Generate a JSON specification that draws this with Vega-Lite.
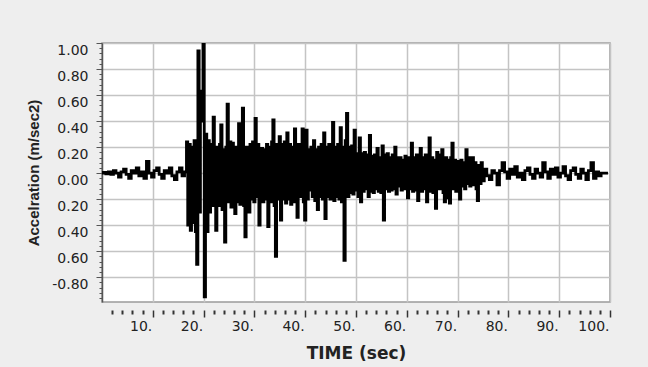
{
"$schema": "https://vega.github.io/schema/vega-lite/v6.json",
"width": 508,
"height": 259,
"autosize": {"type": "none"},
"padding": {"left": 102, "top": 43, "right": 38, "bottom": 65},
"background": "#eeeeee",
"config": {"view": {"fill": "white", "stroke": "#9a9a9a", "strokeWidth": 1.5}, "font": "DejaVu Sans"},
"data": {"values": [
{"t":0,"a":0},{"t":0.5,"a":0.005},{"t":1,"a":-0.005},{"t":1.5,"a":0.01},{"t":2,"a":-0.01},{"t":2.5,"a":0.02},{"t":3,"a":0},{"t":3.5,"a":-0.03},{"t":4,"a":0.01},{"t":4.5,"a":0.03},{"t":5,"a":-0.01},{"t":5.5,"a":-0.04},{"t":6,"a":0.02},{"t":6.5,"a":0},{"t":7,"a":0.04},{"t":7.5,"a":-0.02},{"t":8,"a":0.01},{"t":8.5,"a":-0.04},{"t":9,"a":0.09},{"t":9.5,"a":0},{"t":10,"a":-0.03},{"t":10.5,"a":0.02},{"t":11,"a":0.04},{"t":11.5,"a":-0.01},{"t":12,"a":-0.04},{"t":12.5,"a":0.02},{"t":13,"a":0},{"t":13.5,"a":0.04},{"t":14,"a":-0.02},{"t":14.5,"a":-0.05},{"t":15,"a":0.01},{"t":15.5,"a":0.04},{"t":16,"a":-0.02},{"t":16.5,"a":0.01},
{"t":16.75,"a":0.24},{"t":17,"a":-0.40},{"t":17.25,"a":0.22},{"t":17.5,"a":-0.44},{"t":17.75,"a":0.20},{"t":18,"a":-0.38},{"t":18.25,"a":0.25},{"t":18.5,"a":-0.45},{"t":18.75,"a":-0.70},{"t":19,"a":0.94},{"t":19.25,"a":-0.30},{"t":19.5,"a":0.40},{"t":19.75,"a":0.63},{"t":20,"a":1.00},{"t":20.25,"a":-0.95},{"t":20.5,"a":0.30},{"t":20.75,"a":-0.45},{"t":21,"a":0.25},{"t":21.25,"a":-0.30},{"t":21.5,"a":0.22},{"t":21.75,"a":-0.25},{"t":22,"a":0.43},{"t":22.25,"a":-0.20},{"t":22.5,"a":-0.44},{"t":22.75,"a":0.20},{"t":23,"a":-0.25},{"t":23.25,"a":0.22},{"t":23.5,"a":0.37},{"t":23.75,"a":-0.28},{"t":24,"a":0.18},{"t":24.25,"a":-0.53},{"t":24.5,"a":0.20},{"t":24.75,"a":0.53},{"t":25,"a":-0.22},{"t":25.25,"a":0.24},{"t":25.5,"a":-0.26},{"t":25.75,"a":0.23},{"t":26,"a":-0.20},{"t":26.25,"a":-0.31},{"t":26.5,"a":0.20},{"t":26.75,"a":-0.22},{"t":27,"a":0.38},{"t":27.25,"a":-0.24},{"t":27.5,"a":0.22},{"t":27.75,"a":0.50},{"t":28,"a":-0.25},{"t":28.25,"a":-0.49},{"t":28.5,"a":0.20},{"t":28.75,"a":-0.22},{"t":29,"a":-0.30},{"t":29.25,"a":0.22},{"t":29.5,"a":-0.20},{"t":29.75,"a":0.24},{"t":30,"a":-0.22},{"t":30.25,"a":0.42},{"t":30.5,"a":-0.18},{"t":30.75,"a":0.22},{"t":31,"a":-0.40},{"t":31.25,"a":-0.15},{"t":31.5,"a":0.19},{"t":31.75,"a":-0.22},{"t":32,"a":0.18},{"t":32.25,"a":-0.20},{"t":32.5,"a":0.22},{"t":32.75,"a":-0.41},{"t":33,"a":0.20},{"t":33.25,"a":-0.22},{"t":33.5,"a":0.24},{"t":33.75,"a":0.41},{"t":34,"a":-0.25},{"t":34.25,"a":-0.64},{"t":34.5,"a":0.22},{"t":34.75,"a":-0.20},{"t":35,"a":0.28},{"t":35.25,"a":-0.36},{"t":35.5,"a":0.22},{"t":35.75,"a":-0.20},{"t":36,"a":0.24},{"t":36.25,"a":-0.23},{"t":36.5,"a":0.31},{"t":36.75,"a":-0.20},{"t":37,"a":0.22},{"t":37.25,"a":-0.24},{"t":37.5,"a":0.20},{"t":37.75,"a":-0.22},{"t":38,"a":0.34},{"t":38.25,"a":-0.20},{"t":38.5,"a":-0.34},{"t":38.75,"a":0.22},{"t":39,"a":-0.18},{"t":39.25,"a":0.20},{"t":39.5,"a":0.34},{"t":39.75,"a":-0.22},{"t":40,"a":-0.36},{"t":40.25,"a":0.33},{"t":40.5,"a":-0.20},{"t":40.75,"a":0.18},{"t":41,"a":-0.13},{"t":41.25,"a":0.20},{"t":41.5,"a":-0.18},{"t":41.75,"a":0.25},{"t":42,"a":-0.21},{"t":42.25,"a":0.18},{"t":42.5,"a":-0.28},{"t":42.75,"a":0.20},{"t":43,"a":-0.18},{"t":43.25,"a":0.22},{"t":43.5,"a":-0.20},{"t":43.75,"a":0.31},{"t":44,"a":-0.35},{"t":44.25,"a":0.20},{"t":44.5,"a":-0.18},{"t":44.75,"a":0.22},{"t":45,"a":-0.20},{"t":45.25,"a":0.18},{"t":45.5,"a":0.39},{"t":45.75,"a":-0.21},{"t":46,"a":0.20},{"t":46.25,"a":-0.18},{"t":46.5,"a":0.22},{"t":46.75,"a":-0.20},{"t":47,"a":0.35},{"t":47.25,"a":-0.22},{"t":47.5,"a":0.20},{"t":47.75,"a":-0.67},{"t":48,"a":0.25},{"t":48.25,"a":0.46},{"t":48.5,"a":-0.18},{"t":48.75,"a":0.20},{"t":49,"a":-0.15},{"t":49.25,"a":0.21},{"t":49.5,"a":-0.16},{"t":49.75,"a":0.33},{"t":50,"a":-0.13},{"t":50.25,"a":0.15},{"t":50.5,"a":-0.18},{"t":50.75,"a":0.27},{"t":51,"a":-0.22},{"t":51.25,"a":0.15},{"t":51.5,"a":-0.14},{"t":51.75,"a":0.16},{"t":52,"a":-0.12},{"t":52.25,"a":0.14},{"t":52.5,"a":-0.18},{"t":52.75,"a":0.29},{"t":53,"a":-0.14},{"t":53.25,"a":0.13},{"t":53.5,"a":-0.15},{"t":53.75,"a":0.14},{"t":54,"a":-0.12},{"t":54.25,"a":0.19},{"t":54.5,"a":-0.14},{"t":54.75,"a":0.12},{"t":55,"a":-0.15},{"t":55.25,"a":0.21},{"t":55.5,"a":-0.36},{"t":55.75,"a":0.14},{"t":56,"a":-0.12},{"t":56.25,"a":0.15},{"t":56.5,"a":-0.14},{"t":56.75,"a":0.12},{"t":57,"a":-0.13},{"t":57.25,"a":0.14},{"t":57.5,"a":-0.12},{"t":57.75,"a":0.20},{"t":58,"a":-0.16},{"t":58.25,"a":0.12},{"t":58.5,"a":-0.10},{"t":58.75,"a":0.12},{"t":59,"a":-0.13},{"t":59.25,"a":0.10},{"t":59.5,"a":-0.12},{"t":59.75,"a":0.13},{"t":60,"a":0.11},{"t":60.25,"a":-0.19},{"t":60.5,"a":0.12},{"t":60.75,"a":-0.12},{"t":61,"a":0.23},{"t":61.25,"a":-0.14},{"t":61.5,"a":0.12},{"t":61.75,"a":-0.13},{"t":62,"a":0.14},{"t":62.25,"a":-0.21},{"t":62.5,"a":0.12},{"t":62.75,"a":0.19},{"t":63,"a":-0.14},{"t":63.25,"a":0.12},{"t":63.5,"a":-0.12},{"t":63.75,"a":0.14},{"t":64,"a":-0.22},{"t":64.25,"a":0.12},{"t":64.5,"a":0.27},{"t":64.75,"a":-0.14},{"t":65,"a":0.12},{"t":65.25,"a":-0.15},{"t":65.5,"a":0.10},{"t":65.75,"a":-0.27},{"t":66,"a":0.16},{"t":66.25,"a":-0.12},{"t":66.5,"a":0.14},{"t":66.75,"a":-0.12},{"t":67,"a":0.18},{"t":67.25,"a":-0.15},{"t":67.5,"a":-0.22},{"t":67.75,"a":0.12},{"t":68,"a":-0.19},{"t":68.25,"a":0.10},{"t":68.5,"a":-0.23},{"t":68.75,"a":0.12},{"t":69,"a":0.23},{"t":69.25,"a":-0.12},{"t":69.5,"a":0.10},{"t":69.75,"a":-0.14},{"t":70,"a":0.09},{"t":70.25,"a":-0.12},{"t":70.5,"a":-0.20},{"t":70.75,"a":0.10},{"t":71,"a":-0.10},{"t":71.25,"a":0.08},{"t":71.5,"a":-0.12},{"t":71.75,"a":0.18},{"t":72,"a":-0.08},{"t":72.25,"a":0.12},{"t":72.5,"a":-0.10},{"t":72.75,"a":0.10},{"t":73,"a":0.12},{"t":73.25,"a":-0.09},{"t":73.5,"a":0.08},{"t":73.75,"a":-0.12},{"t":74,"a":-0.21},{"t":74.25,"a":0.06},{"t":74.5,"a":-0.08},{"t":74.75,"a":0.08},{"t":75,"a":-0.06},
{"t":75.5,"a":0.03},{"t":76,"a":-0.02},{"t":76.5,"a":-0.05},{"t":77,"a":0.02},{"t":77.5,"a":0},{"t":78,"a":-0.09},{"t":78.5,"a":0.02},{"t":79,"a":0.08},{"t":79.5,"a":0.01},{"t":80,"a":-0.04},{"t":80.5,"a":0.03},{"t":81,"a":-0.01},{"t":81.5,"a":0.05},{"t":82,"a":-0.03},{"t":82.5,"a":0},{"t":83,"a":-0.05},{"t":83.5,"a":0.02},{"t":84,"a":0.04},{"t":84.5,"a":-0.01},{"t":85,"a":-0.04},{"t":85.5,"a":0.03},{"t":86,"a":0},{"t":86.5,"a":-0.03},{"t":87,"a":0.08},{"t":87.5,"a":0.01},{"t":88,"a":-0.04},{"t":88.5,"a":0.03},{"t":89,"a":-0.01},{"t":89.5,"a":0.04},{"t":90,"a":-0.03},{"t":90.5,"a":0},{"t":91,"a":0.05},{"t":91.5,"a":-0.02},{"t":92,"a":-0.05},{"t":92.5,"a":0.02},{"t":93,"a":0.04},{"t":93.5,"a":-0.01},{"t":94,"a":-0.04},{"t":94.5,"a":0.03},{"t":95,"a":0},{"t":95.5,"a":-0.05},{"t":96,"a":0.02},{"t":96.5,"a":0.08},{"t":97,"a":-0.04},{"t":97.5,"a":0.01},{"t":98,"a":-0.02},{"t":98.5,"a":0},{"t":99,"a":0},{"t":99.6,"a":0}
]},
"layer": [
{
"mark": {"type": "line", "strokeOpacity": 0},
"encoding": {
"x": {"field": "t", "type": "quantitative", "scale": {"domain": [0, 100], "nice": false, "zero": false},
"axis": {"orient": "bottom", "values": [2,4,6,8,12,14,16,18,22,24,26,28,32,34,36,38,42,44,46,48,52,54,56,58,62,64,66,68,72,74,76,78,82,84,86,88,92,94,96,98], "offset": 8, "tickSize": 4, "tickWidth": 2, "tickColor": "#333333", "labels": false, "domain": false, "grid": false, "title": null}},
"y": {"field": "a", "type": "quantitative", "scale": {"domain": [-0.99, 1.0], "nice": false, "zero": false},
"axis": {"orient": "left", "values": [-0.96,-0.92,-0.88,-0.84,-0.76,-0.72,-0.68,-0.64,-0.56,-0.52,-0.48,-0.44,-0.36,-0.32,-0.28,-0.24,-0.16,-0.12,-0.08,-0.04,0.04,0.08,0.12,0.16,0.24,0.28,0.32,0.36,0.44,0.48,0.52,0.56,0.64,0.68,0.72,0.76,0.84,0.88,0.92,0.96], "tickSize": 3, "tickColor": "#555555", "labels": false, "domain": false, "grid": false, "title": null}}
}
},
{
"mark": {"type": "line", "color": "black", "strokeWidth": 2.8, "interpolate": "step", "clip": true},
"encoding": {
"x": {"field": "t", "type": "quantitative", "scale": {"domain": [0, 100], "nice": false, "zero": false},
"axis": {"orient": "bottom", "values": [10,20,30,40,50,60,70,80,90,100], "offset": 8, "tickSize": 7, "tickWidth": 1.5, "tickColor": "#333333", "domain": false, "grid": true, "gridColor": "#c4c4c4", "gridWidth": 1.5, "labelExpr": "datum.value + '.'", "labelAlign": "right", "labelOffset": -1, "labelPadding": 2, "labelFontSize": 14, "labelColor": "#222222", "labelFlush": false, "labelOverlap": false, "title": "TIME (sec)", "titleFont": "DejaVu Sans", "titleFontSize": 17, "titleFontWeight": "bold", "titleColor": "#222222", "titlePadding": 12}},
"y": {"field": "a", "type": "quantitative", "scale": {"domain": [-0.99, 1.0], "nice": false, "zero": false},
"axis": {"orient": "left", "values": [-0.8,-0.6,-0.4,-0.2,0,0.2,0.4,0.6,0.8,1.0], "grid": true, "gridColor": "#c4c4c4", "gridWidth": 1.5, "domain": true, "domainColor": "#555555", "domainWidth": 1.5, "tickSize": 6, "tickColor": "#555555", "labelExpr": "datum.value < -0.7 ? '-0.80' : format(abs(datum.value), '.2f')", "labelOffset": 7, "labelPadding": 8, "labelFontSize": 14, "labelColor": "#222222", "labelFlush": false, "labelOverlap": false, "title": "Accelration (m/sec2)", "titleFont": "Liberation Sans", "titleFontSize": 15, "titleFontWeight": "bold", "titleColor": "#222222", "titlePadding": 10}}
}
}
],
"resolve": {"axis": {"x": "independent", "y": "independent"}}
}
